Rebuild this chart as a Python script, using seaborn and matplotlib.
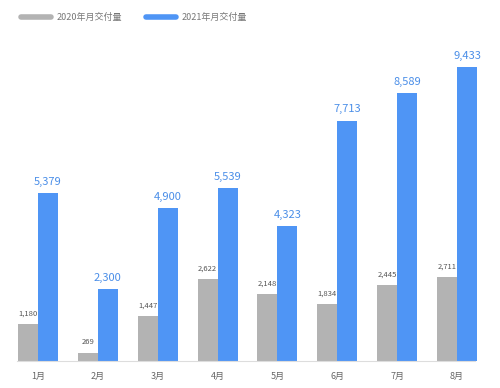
import numpy as np
import pandas as pd
import seaborn as sns
import matplotlib.pyplot as plt
from matplotlib.lines import Line2D

months = ['1月', '2月', '3月', '4月', '5月', '6月', '7月', '8月']
deliveries_2020 = [1180, 269, 1447, 2622, 2148, 1834, 2445, 2711]
deliveries_2021 = [5379, 2300, 4900, 5539, 4323, 7713, 8589, 9433]
series = ['2020年月交付量', '2021年月交付量']
colors = ['#b3b3b3', '#4f95f5']

df = pd.DataFrame({
    'month': months * 2,
    'value': deliveries_2020 + deliveries_2021,
    'series': [series[0]] * len(months) + [series[1]] * len(months),
})

sns.set_style('white')
plt.rcParams['font.family'] = ['Noto Sans CJK SC', 'DejaVu Sans']

fig = plt.figure(figsize=(5, 3.88), dpi=100)
ax = fig.add_axes([0.016, 0.0696, 0.958, 0.827])

sns.barplot(data=df, x='month', y='value', hue='series', palette=colors,
            width=0.667, gap=0, saturation=1, legend=False, linewidth=0,
            ax=ax)

# value labels
for i, v in enumerate(deliveries_2020):
    ax.text(i - 0.1667, v + 200, f'{v:,}', ha='center', va='bottom',
            fontsize=5.5, color='#555555')
for i, v in enumerate(deliveries_2021):
    ax.text(i + 0.1667, v + 200, f'{v:,}', ha='center', va='bottom',
            fontsize=8, color='#4a8ee8', fontweight='medium')

ax.set_xlim(-0.5, 7.5)
ax.set_ylim(0, 10300)
ax.set_xlabel('')
ax.set_ylabel('')
ax.set_yticks([])
ax.tick_params(axis='x', length=0, labelsize=6.5, labelcolor='#666666', pad=8)
for s in ['top', 'right', 'left']:
    ax.spines[s].set_visible(False)
ax.spines['bottom'].set_color('#dddddd')
ax.spines['bottom'].set_linewidth(0.8)
ax.spines['bottom'].set_bounds(-0.35, 7.3)

handles = [Line2D([0], [0], color=c, lw=4) for c in colors]
fig.legend(handles, series, loc='upper left', bbox_to_anchor=(0.025, 0.988),
           ncol=2, frameon=False, fontsize=6.5, handlelength=3.4,
           handletextpad=0.6, columnspacing=2.6, labelcolor='#777777')

fig.savefig('out.png', dpi=100, facecolor='white')
